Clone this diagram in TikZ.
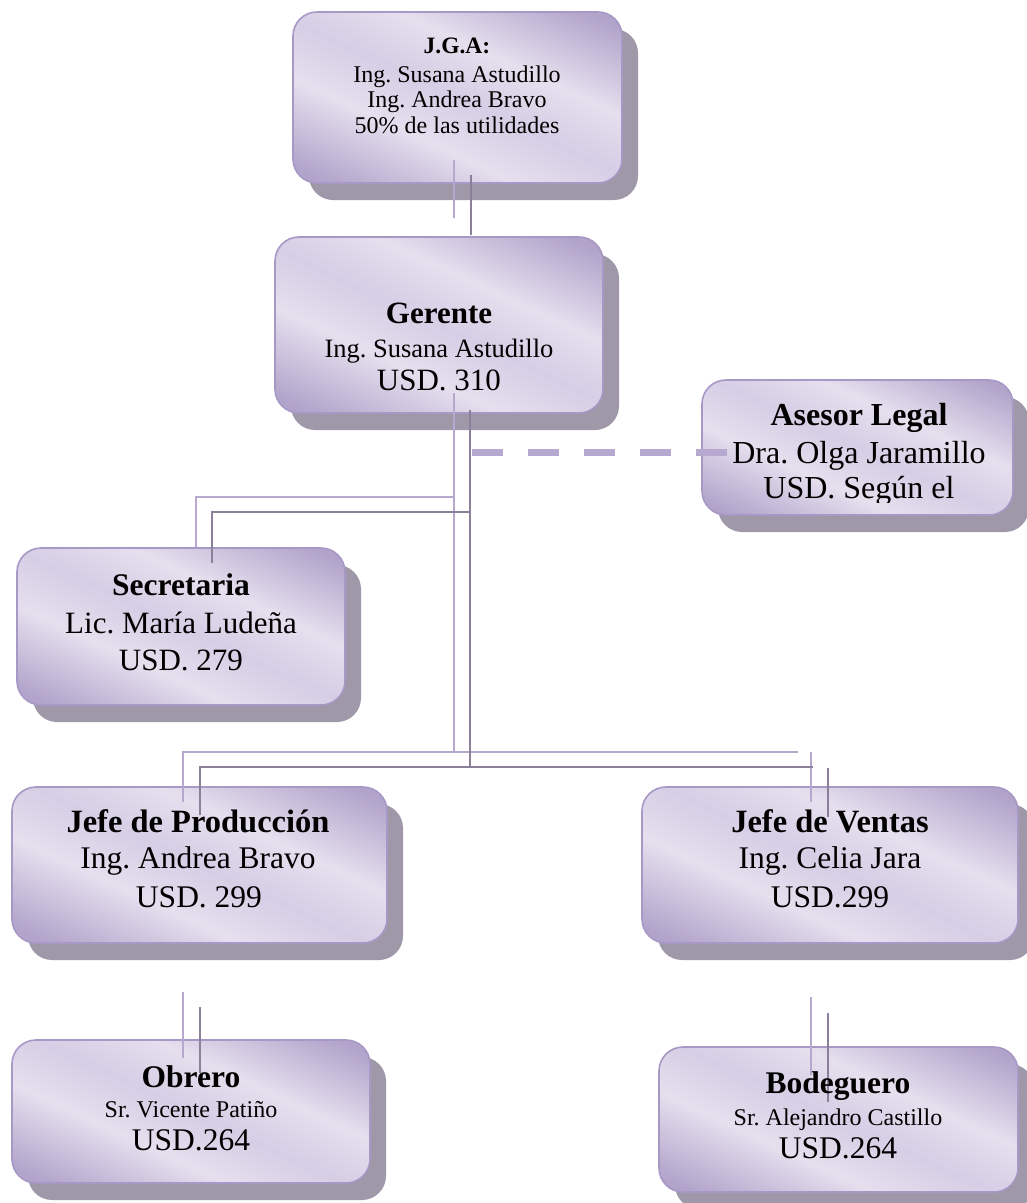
\documentclass[tikz,border=0pt]{standalone}
\usepackage{fontspec}
\setmainfont{Liberation Serif}
\usetikzlibrary{shadows}

\definecolor{cardDark}{RGB}{177,163,202}
\definecolor{cardLight}{RGB}{229,223,238}
\definecolor{cardMid}{RGB}{214,206,229}
\definecolor{cardEdge}{RGB}{168,152,198}
\definecolor{shadowGray}{RGB}{159,152,169}
\definecolor{lineLight}{RGB}{182,168,207}
\definecolor{lineDark}{RGB}{138,128,154}

% diagonal purple sheen used on every card
\pgfdeclarehorizontalshading{cardshade}{100bp}{%
  color(0bp)=(cardDark); color(20bp)=(cardDark); color(38bp)=(cardLight);
  color(50bp)=(cardMid); color(62bp)=(cardLight); color(80bp)=(cardDark);
  color(100bp)=(cardDark)}

\tikzset{
  card/.style={rectangle, rounded corners=24pt, draw=cardEdge, line width=1.6pt,
    shading=cardshade, shading angle=65, inner sep=0pt,
    drop shadow={shadow xshift=16pt, shadow yshift=-17pt, fill=shadowGray, opacity=1}},
  lnA/.style={draw=lineLight, line width=2pt},
  lnB/.style={draw=lineDark, line width=2pt},
  dashlink/.style={draw=lineLight, line width=7pt, dash pattern=on 31pt off 25pt},
  txt/.style={anchor=base, inner sep=0pt, text=black},
  fs/.style={font=\fontsize{#1}{#1}\selectfont},
  fb/.style={font=\bfseries\fontsize{#1}{#1}\selectfont}
}

\begin{document}
\frenchspacing
\begin{tikzpicture}[x=1pt,y=-1pt]
\useasboundingbox (0,0) rectangle (1027,1203);
\fill[white] (0,0) rectangle (1027,1203);
\clip (0,0) rectangle (1027,1203);

% cards
\node[card, minimum width=329pt, minimum height=171pt] (jga) at (457.5,97.5) {};
\node[card, minimum width=328pt, minimum height=176pt] (ger) at (439,325) {};
\node[card, minimum width=311pt, minimum height=135pt] (ase) at (857.5,447.5) {};
\node[card, minimum width=328pt, minimum height=157pt] (sec) at (181,626.5) {};
\node[card, minimum width=375pt, minimum height=156pt] (jpr) at (199.5,865) {};
\node[card, minimum width=376pt, minimum height=156pt] (jve) at (830,865) {};
\node[card, minimum width=358pt, minimum height=143pt] (obr) at (191,1111.5) {};
\node[card, minimum width=359pt, minimum height=145pt] (bod) at (838.5,1119.5) {};

% connector ends (light strokes)
\coordinate (a1) at (454,160);  \coordinate (a2) at (454,218);
\coordinate (a3) at (454,393);  \coordinate (a4) at (454,752);
\coordinate (a5) at (454,497);  \coordinate (a6) at (196,497);
\coordinate (a7) at (196,547);
\coordinate (a8) at (183,802);  \coordinate (a9) at (183,752);
\coordinate (a10) at (798,752);
\coordinate (a11) at (811,752); \coordinate (a12) at (811,802);
\coordinate (a13) at (183,992); \coordinate (a14) at (183,1058);
\coordinate (a15) at (811,997); \coordinate (a16) at (811,1075);
% connector ends (dark strokes)
\coordinate (b1) at (471,175);  \coordinate (b2) at (471,235);
\coordinate (b3) at (470,410);  \coordinate (b4) at (470,768);
\coordinate (b5) at (470,512);  \coordinate (b6) at (212,512);
\coordinate (b7) at (212,563);
\coordinate (b8) at (200,815);  \coordinate (b9) at (200,767);
\coordinate (b10) at (813,767);
\coordinate (b11) at (828,768); \coordinate (b12) at (828,817);
\coordinate (b13) at (200,1007); \coordinate (b14) at (200,1073);
\coordinate (b15) at (828,1013); \coordinate (b16) at (828,1102);
% advisor link
\coordinate (d1) at (472,452);  \coordinate (d2) at (727,452);

\draw[lnA] (a1) -- (a2);
\draw[lnA] (a3) -- (a4);
\draw[lnA] (a5) -- (a6) -- (a7);
\draw[lnA] (a8) -- (a9) -- (a10);
\draw[lnA] (a11) -- (a12);
\draw[lnA] (a13) -- (a14);
\draw[lnA] (a15) -- (a16);

\draw[lnB] (b1) -- (b2);
\draw[lnB] (b3) -- (b4);
\draw[lnB] (b5) -- (b6) -- (b7);
\draw[lnB] (b8) -- (b9) -- (b10);
\draw[lnB] (b11) -- (b12);
\draw[lnB] (b13) -- (b14);
\draw[lnB] (b15) -- (b16);

\draw[dashlink] (d1) -- (d2);

% card texts
\node[txt, fb=23.5] (jgaT1) at (457,53) {J.G.A:};
\node[txt, fs=24] (jgaT2) at (457,82) {Ing. Susana Astudillo};
\node[txt, fs=24] (jgaT3) at (457,107) {Ing. Andrea Bravo};
\node[txt, fs=24] (jgaT4) at (457,133) {50\% de las utilidades};

\node[txt, fb=31] (gerT1) at (439,323) {Gerente};
\node[txt, fs=26.5] (gerT2) at (439,357) {Ing. Susana Astudillo};
\node[txt, fs=31] (gerT3) at (439,390) {USD. 310};

\node[txt, fb=32] (aseT1) at (859,425) {Asesor Legal};
\node[txt, fs=32] (aseT2) at (859,463) {Dra. Olga Jaramillo};
\begin{scope}
  \clip (700,470) rectangle (1013,502);
  \node[txt, fs=32] (aseT3) at (859,498) {USD. Según el};
\end{scope}

\node[txt, fb=31.5] (secT1) at (181,595) {Secretaria};
\node[txt, fs=31] (secT2) at (181,633) {Lic. María Ludeña};
\node[txt, fs=31] (secT3) at (181,670) {USD. 279};

\node[txt, fb=32.5] (jprT1) at (198,832) {Jefe de Producción};
\node[txt, fs=31.5] (jprT2) at (198,868) {Ing. Andrea Bravo};
\node[txt, fs=31.5] (jprT3) at (199,907) {USD. 299};

\node[txt, fb=32.5] (jveT1) at (830,832) {Jefe de Ventas};
\node[txt, fs=31.5] (jveT2) at (830,868) {Ing. Celia Jara};
\node[txt, fs=31.5] (jveT3) at (830,907) {USD.299};

\node[txt, fb=31.5] (obrT1) at (191,1087) {Obrero};
\node[txt, fs=24] (obrT2) at (191,1117) {Sr. Vicente Patiño};
\node[txt, fs=31.5] (obrT3) at (191,1150) {USD.264};

\node[txt, fb=31.5] (bodT1) at (838,1093) {Bodeguero};
\node[txt, fs=24] (bodT2) at (838,1125) {Sr. Alejandro Castillo};
\node[txt, fs=31.5] (bodT3) at (838,1158) {USD.264};
\end{tikzpicture}
\end{document}
